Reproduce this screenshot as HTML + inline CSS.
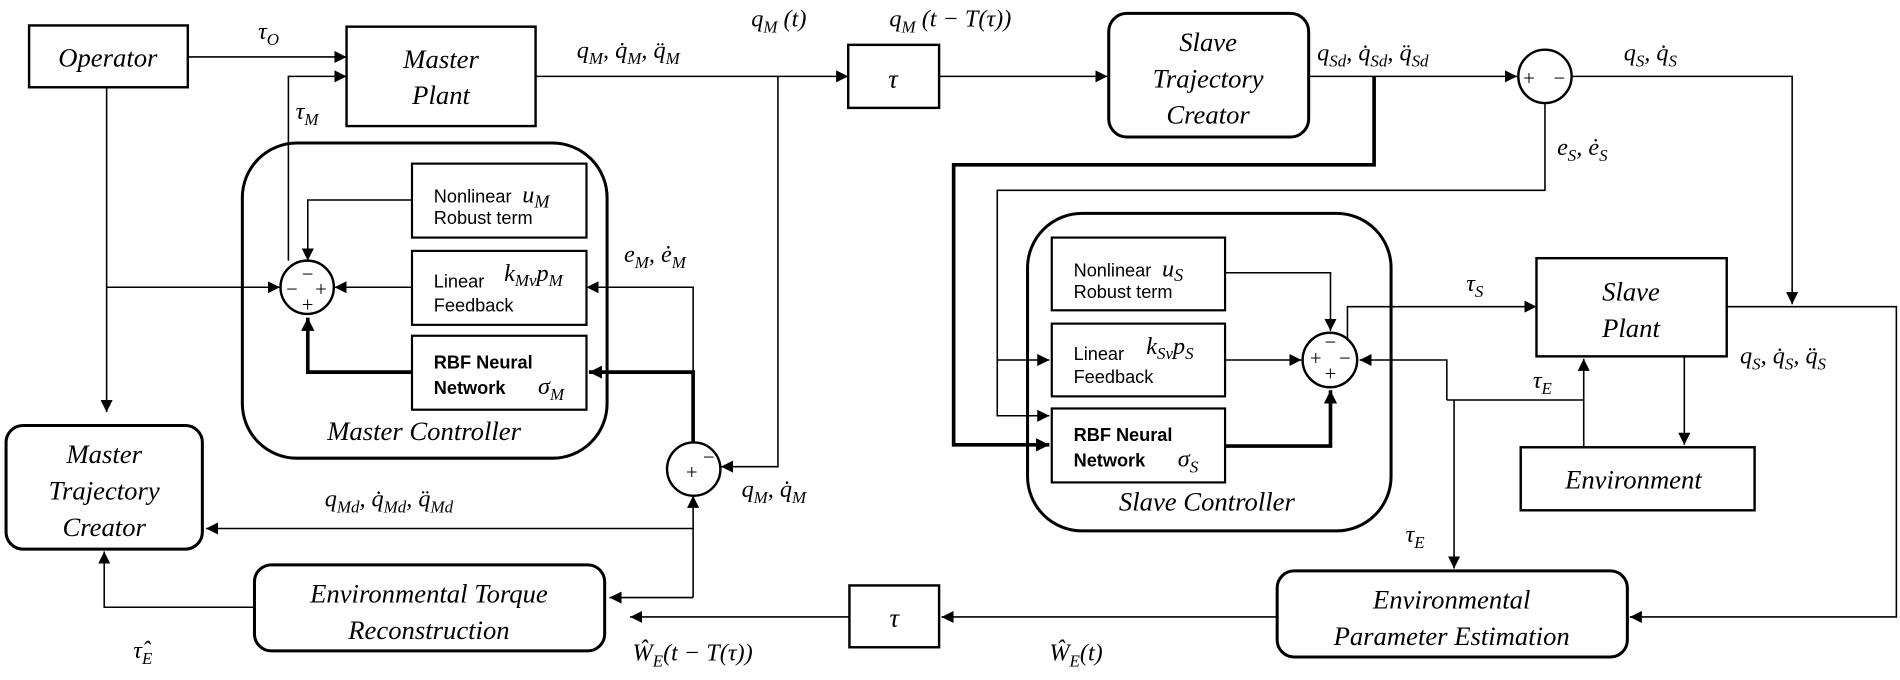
<!DOCTYPE html>
<html><head><meta charset="utf-8"><style>
html,body{margin:0;padding:0;background:#fff;}
svg{display:block}
text{font-family:"Liberation Serif",serif;font-style:italic;fill:#000}
.s{font-family:"Liberation Sans",sans-serif;font-style:normal;font-size:15px}
.b{font-weight:bold}
.bx{font-size:22px}
.lb{font-size:20px}
</style></head><body>
<svg width="1900" height="680" viewBox="0 0 1568 561" preserveAspectRatio="none" xmlns="http://www.w3.org/2000/svg">
<defs>
<marker id="a" viewBox="0 0 10 10" refX="10" refY="5" markerWidth="10" markerHeight="10" markerUnits="userSpaceOnUse" orient="auto"><path d="M0,0L10,5L0,10z" fill="#000"/></marker>
<marker id="ab" viewBox="0 0 10 10" refX="10" refY="5" markerWidth="11" markerHeight="11" markerUnits="userSpaceOnUse" orient="auto"><path d="M0,0L10,5L0,10z" fill="#000"/></marker>
</defs>
<g fill="none" stroke="#000" stroke-width="1.3">
<rect x="24" y="21" width="131" height="51" stroke-width="2"/>
<rect x="286" y="22" width="156" height="82" stroke-width="2"/>
<rect x="700" y="37" width="75" height="52" stroke-width="2"/>
<rect x="915" y="11" width="165" height="102" rx="15" stroke-width="2.5"/>
<rect x="200" y="118" width="301" height="260" rx="45" stroke-width="2.5"/>
<rect x="340" y="135" width="144" height="61" stroke-width="1.8"/>
<rect x="340" y="207" width="144" height="61" stroke-width="1.8"/>
<rect x="340" y="277" width="144" height="61" stroke-width="1.8"/>
<circle cx="253.5" cy="237" r="22" stroke-width="2"/>
<circle cx="572.5" cy="387" r="22" stroke-width="2"/>
<circle cx="1275" cy="63" r="22" stroke-width="2"/>
<rect x="5" y="351" width="162" height="102" rx="14" stroke-width="2.5"/>
<rect x="210" y="466" width="289" height="71" rx="14" stroke-width="2.5"/>
<rect x="701" y="483" width="74" height="51" stroke-width="2"/>
<rect x="848" y="176" width="300" height="262" rx="45" stroke-width="2.5"/>
<rect x="868" y="196" width="143" height="60" stroke-width="1.8"/>
<rect x="868" y="267" width="143" height="60" stroke-width="1.8"/>
<rect x="868" y="337" width="143" height="61" stroke-width="1.8"/>
<circle cx="1097.5" cy="297" r="22.5" stroke-width="2"/>
<rect x="1268" y="213" width="157" height="81" stroke-width="2"/>
<rect x="1255" y="369" width="193" height="52" stroke-width="2"/>
<rect x="1054" y="471" width="289" height="71" rx="14" stroke-width="2.5"/>
<path d="M155 47H286" marker-end="url(#a)"/>
<path d="M238 215V63H286" marker-end="url(#a)"/>
<path d="M442 63H700" marker-end="url(#a)"/>
<path d="M88 72V340" marker-end="url(#a)"/>
<path d="M88 237H231" marker-end="url(#a)"/>
<path d="M340 165H254V215" marker-end="url(#a)"/>
<path d="M340 237H276" marker-end="url(#a)"/>
<path d="M572 365V237H484" marker-end="url(#a)"/>
<path d="M642 63V385H595" marker-end="url(#a)"/>
<path d="M572 493V409" marker-end="url(#a)"/>
<path d="M572 436H170" marker-end="url(#a)"/>
<path d="M572 493H503" marker-end="url(#a)"/>
<path d="M210 501H86V455" marker-end="url(#a)"/>
<path d="M701 509H520" marker-end="url(#a)"/>
<g stroke-width="3">
<path d="M572 365V307H486" marker-end="url(#ab)"/>
<path d="M340 307H254V262" marker-end="url(#ab)"/>
<path d="M1134 63V136H787V367H866" marker-end="url(#ab)"/>
<path d="M1011 368H1098V322" marker-end="url(#ab)"/>
</g>
<path d="M775 63H914" marker-end="url(#a)"/>
<path d="M1080 63H1252" marker-end="url(#a)"/>
<path d="M1275 85V157H823V343H866" marker-end="url(#a)"/>
<path d="M823 297H866" marker-end="url(#a)"/>
<path d="M1011 225H1098V273" marker-end="url(#a)"/>
<path d="M1011 297H1074" marker-end="url(#a)"/>
<path d="M1112 281V253H1268" marker-end="url(#a)"/>
<path d="M1297 63H1479V251" marker-end="url(#a)"/>
<path d="M1425 253H1565V509H1345" marker-end="url(#a)"/>
<path d="M1194 330V297H1122" marker-end="url(#a)"/>
<path d="M1194 330H1307"/>
<path d="M1307 369V296" marker-end="url(#a)"/>
<path d="M1200 330V469" marker-end="url(#a)"/>
<path d="M1390 294V367" marker-end="url(#a)"/>
<path d="M1054 509H777" marker-end="url(#a)"/>
</g>
<text class="bx" x="89" y="55" text-anchor="middle">Operator</text>
<text class="bx" x="364" y="56" text-anchor="middle">Master</text>
<text class="bx" x="364" y="86" text-anchor="middle">Plant</text>
<text class="bx" x="737" y="72" text-anchor="middle">τ</text>
<text class="bx" x="738" y="517" text-anchor="middle">τ</text>
<text class="bx" x="997" y="42" text-anchor="middle">Slave</text>
<text class="bx" x="997" y="72" text-anchor="middle">Trajectory</text>
<text class="bx" x="997" y="102" text-anchor="middle">Creator</text>
<text class="bx" x="86" y="382" text-anchor="middle">Master</text>
<text class="bx" x="86" y="412" text-anchor="middle">Trajectory</text>
<text class="bx" x="86" y="442" text-anchor="middle">Creator</text>
<text class="bx" x="350" y="363" text-anchor="middle">Master Controller</text>
<text class="bx" x="996" y="421" text-anchor="middle">Slave Controller</text>
<text class="bx" x="354" y="497" text-anchor="middle">Environmental Torque</text>
<text class="bx" x="354" y="527" text-anchor="middle">Reconstruction</text>
<text class="bx" x="1198" y="502" text-anchor="middle">Environmental</text>
<text class="bx" x="1198" y="532" text-anchor="middle">Parameter Estimation</text>
<text class="bx" x="1346" y="248" text-anchor="middle">Slave</text>
<text class="bx" x="1346" y="278" text-anchor="middle">Plant</text>
<text class="bx" x="1348" y="403" text-anchor="middle">Environment</text>
<text class="s" x="358" y="167">Nonlinear</text><text class="lb" x="431" y="167" font-size="24">u<tspan font-size="15" dy="4">M</tspan></text>
<text class="s" x="358" y="185">Robust term</text>
<text class="s" x="358" y="237">Linear</text><text class="lb" x="416" y="232">k<tspan font-size="14" dy="4">Mv</tspan><tspan dy="-4">p</tspan><tspan font-size="14" dy="4">M</tspan></text>
<text class="s" x="358" y="257">Feedback</text>
<text class="s b" x="358" y="304">RBF Neural</text>
<text class="s b" x="358" y="325">Network</text><text class="lb" x="444" y="325">σ<tspan font-size="14" dy="5">M</tspan></text>
<text class="s" x="886" y="228">Nonlinear</text><text class="lb" x="959" y="228" font-size="24">u<tspan font-size="15" dy="4">S</tspan></text>
<text class="s" x="886" y="246">Robust term</text>
<text class="s" x="886" y="297">Linear</text><text class="lb" x="946" y="292">k<tspan font-size="14" dy="4">Sv</tspan><tspan dy="-4">p</tspan><tspan font-size="14" dy="4">S</tspan></text>
<text class="s" x="886" y="316">Feedback</text>
<text class="s b" x="886" y="364">RBF Neural</text>
<text class="s b" x="886" y="385">Network</text><text class="lb" x="972" y="385">σ<tspan font-size="14" dy="5">S</tspan></text>
<g style="font-family:'Liberation Sans',sans-serif;font-style:normal;font-size:17px">
<text x="248" y="232">−</text><text x="235" y="244">−</text><text x="259" y="244">+</text><text x="248" y="257">+</text>
<text x="565" y="395">+</text><text x="579" y="383">−</text>
<text x="1256" y="70">+</text><text x="1281" y="70">−</text>
<text x="1092" y="288">−</text><text x="1080" y="301">+</text><text x="1104" y="301">−</text><text x="1092" y="314">+</text>
</g>
<g class="lb" font-size="20">
<text x="213" y="32">τ<tspan font-size="14" dy="5">O</tspan></text>
<text x="244" y="98">τ<tspan font-size="14" dy="5">M</tspan></text>
<text x="476" y="48">q<tspan font-size="14" dy="5">M</tspan><tspan dy="-5">, q̇</tspan><tspan font-size="14" dy="5">M</tspan><tspan dy="-5">, q̈</tspan><tspan font-size="14" dy="5">M</tspan></text>
<text x="620" y="22">q<tspan font-size="14" dy="5">M</tspan><tspan dy="-5"> (t)</tspan></text>
<text x="734" y="22">q<tspan font-size="14" dy="5">M</tspan><tspan dy="-5"> (t − T(τ))</tspan></text>
<text x="1087" y="50">q<tspan font-size="14" dy="5">Sd</tspan><tspan dy="-5">, q̇</tspan><tspan font-size="14" dy="5">Sd</tspan><tspan dy="-5">, q̈</tspan><tspan font-size="14" dy="5">Sd</tspan></text>
<text x="1340" y="50">q<tspan font-size="14" dy="5">S</tspan><tspan dy="-5">, q̇</tspan><tspan font-size="14" dy="5">S</tspan></text>
<text x="1285" y="128">e<tspan font-size="14" dy="5">S</tspan><tspan dy="-5">, ė</tspan><tspan font-size="14" dy="5">S</tspan></text>
<text x="515" y="216">e<tspan font-size="14" dy="5">M</tspan><tspan dy="-5">, ė</tspan><tspan font-size="14" dy="5">M</tspan></text>
<text x="612" y="410">q<tspan font-size="14" dy="5">M</tspan><tspan dy="-5">, q̇</tspan><tspan font-size="14" dy="5">M</tspan></text>
<text x="268" y="418">q<tspan font-size="14" dy="5">Md</tspan><tspan dy="-5">, q̇</tspan><tspan font-size="14" dy="5">Md</tspan><tspan dy="-5">, q̈</tspan><tspan font-size="14" dy="5">Md</tspan></text>
<text x="1210" y="240">τ<tspan font-size="14" dy="5">S</tspan></text>
<text x="1436" y="300">q<tspan font-size="14" dy="5">S</tspan><tspan dy="-5">, q̇</tspan><tspan font-size="14" dy="5">S</tspan><tspan dy="-5">, q̈</tspan><tspan font-size="14" dy="5">S</tspan></text>
<text x="1265" y="320">τ<tspan font-size="14" dy="5">E</tspan></text>
<text x="1160" y="447">τ<tspan font-size="14" dy="5">E</tspan></text>
<text x="110" y="543">τ̂<tspan font-size="14" dy="5">E</tspan></text>
<text x="522" y="545">Ŵ<tspan font-size="14" dy="5">E</tspan><tspan dy="-5">(t − T(τ))</tspan></text>
<text x="866" y="545">Ŵ<tspan font-size="14" dy="5">E</tspan><tspan dy="-5">(t)</tspan></text>
</g>
</svg>
</body></html>
